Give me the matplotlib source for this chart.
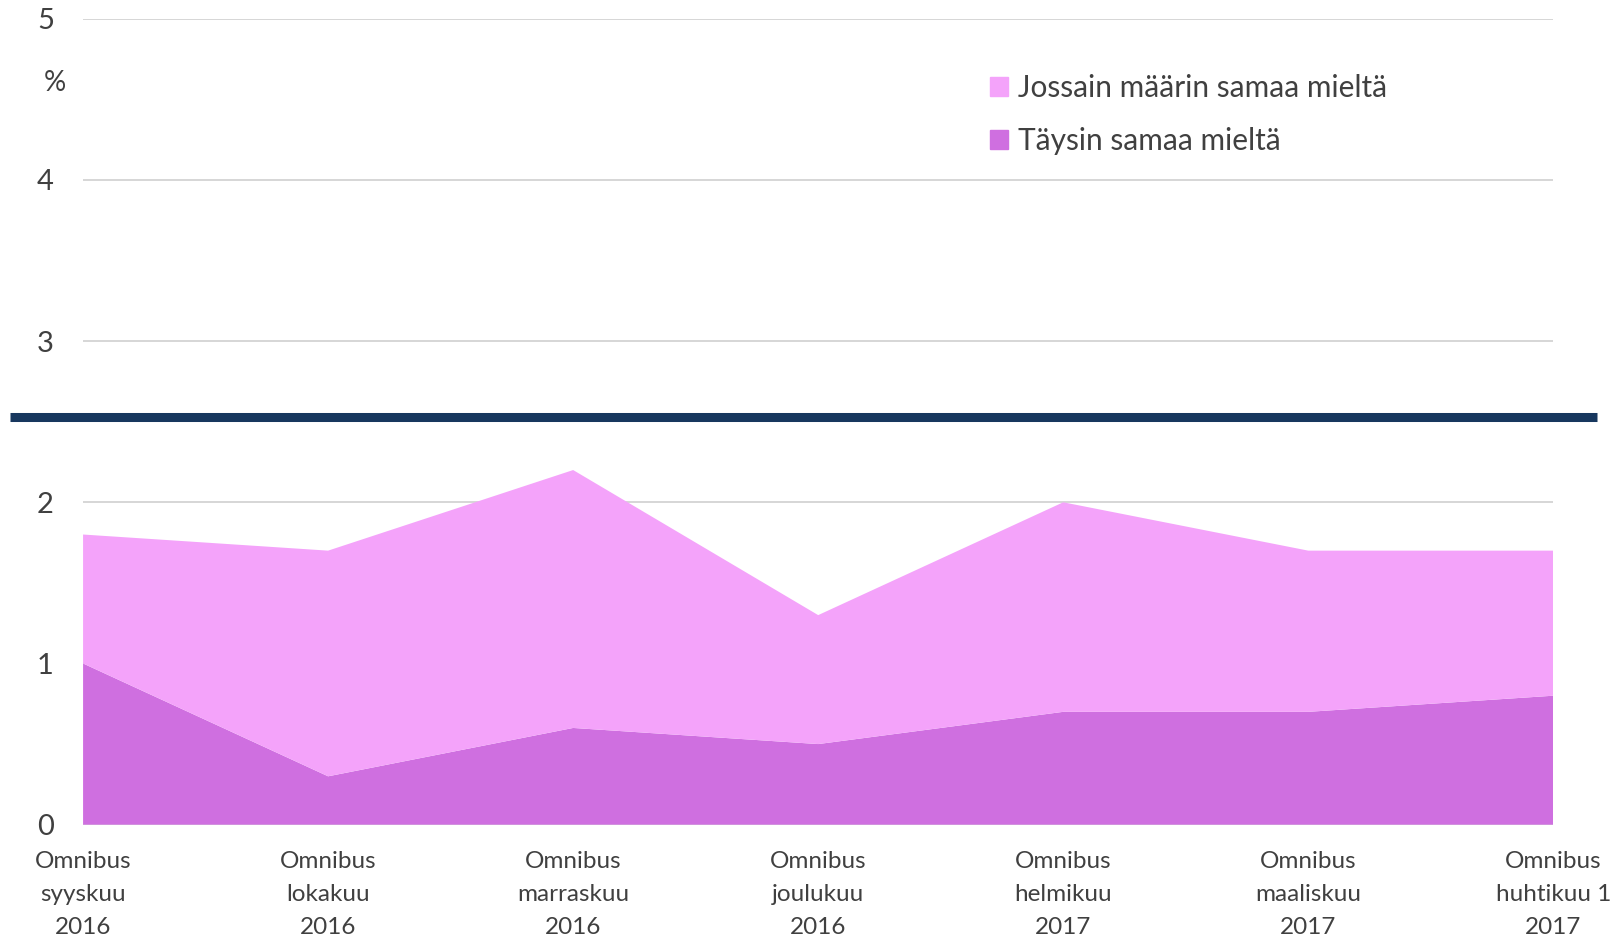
import matplotlib.pyplot as plt
from matplotlib.patches import Patch
from matplotlib.lines import Line2D

plt.rcParams['font.family'] = ['Lato', 'DejaVu Sans']

# data
kaudet = ['Omnibus\nsyyskuu\n2016', 'Omnibus\nlokakuu\n2016', 'Omnibus\nmarraskuu\n2016',
          'Omnibus\njoulukuu\n2016', 'Omnibus\nhelmikuu\n2017', 'Omnibus\nmaaliskuu\n2017',
          'Omnibus\nhuhtikuu 1\n2017']
taysin = [1.0, 0.3, 0.6, 0.5, 0.7, 0.7, 0.8]
jossain = [0.8, 1.4, 1.6, 0.8, 1.3, 1.0, 0.9]
y_ticks = [0, 1, 2, 3, 4, 5]

c_taysin = '#CF6FE0'
c_jossain = '#F4A3FA'
txt = '#404040'

fig = plt.figure(figsize=(16.13, 9.35), dpi=100)
ax = fig.add_axes([0.0515, 0.118, 0.9115, 0.862])

x = list(range(len(kaudet)))
ax.stackplot(x, taysin, jossain, colors=[c_taysin, c_jossain], zorder=2)

ax.set_xlim(0, len(kaudet) - 1)
ax.set_ylim(0, 5)
ax.set_yticks(y_ticks)
ax.set_yticklabels([str(v) for v in y_ticks], fontsize=21, color=txt)
ax.set_xticks(x)
ax.set_xticklabels(kaudet, fontsize=17.5, color=txt, linespacing=1.7,
                   multialignment='center')
ax.tick_params(axis='both', length=0)
ax.tick_params(axis='y', pad=21)
ax.tick_params(axis='x', pad=19)
ax.grid(axis='y', color='#D0D0D0', linewidth=1.2, zorder=1)
ax.set_axisbelow(True)
for s in ax.spines.values():
    s.set_visible(False)

ax.text(-0.0194, 4.6, '%', transform=ax.get_yaxis_transform(), fontsize=20,
        color=txt, ha='center', va='center')

# paksu viiva kaavion poikki
ax.add_line(Line2D([-0.05, 1.03], [2.53, 2.53], transform=ax.get_yaxis_transform(),
                   color='#17375E', linewidth=6.5, solid_capstyle='butt',
                   clip_on=False, zorder=5))

handles = [Patch(color=c_jossain, label='Jossain määrin samaa mieltä'),
           Patch(color=c_taysin, label='Täysin samaa mieltä')]
fig.legend(handles=handles, loc='upper left', bbox_to_anchor=(0.597, 0.95),
           frameon=False, fontsize=21.5, handlelength=0.6, handleheight=0.6,
           handletextpad=0.35, labelspacing=0.85, labelcolor=txt)

fig.savefig('out.png', dpi=100)
